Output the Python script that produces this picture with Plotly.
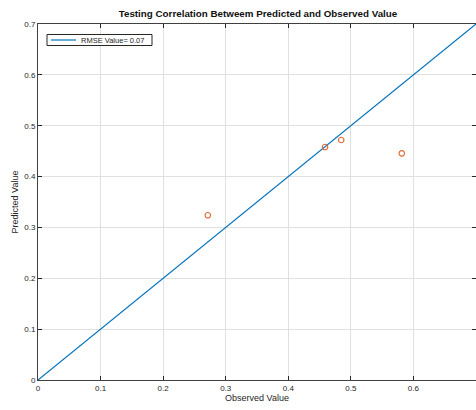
import plotly.graph_objects as go

observed = [0.2714, 0.4587, 0.4846, 0.5814]
predicted = [0.3238, 0.4580, 0.4719, 0.4457]
ref_line = [0.0, 0.7]
x_ticks = [0, 0.1, 0.2, 0.3, 0.4, 0.5, 0.6, 0.7]
y_ticks = [0, 0.1, 0.2, 0.3, 0.4, 0.5, 0.6, 0.7]
legend_label = "RMSE Value= 0.07"

font = "Liberation Sans, Arial, sans-serif"
W, H = 476, 410
L, R, T, B = 38, 0, 24, 30
pw, ph = W - L - R, H - T - B

def px_x(p):
    return (p - L) / pw

def px_y(p):
    return (H - B - p) / ph

fig = go.Figure()
fig.add_trace(go.Scatter(x=ref_line, y=ref_line, mode="lines",
                         line=dict(color="#0072BD", width=1.2),
                         name=legend_label, showlegend=False, cliponaxis=False))
fig.add_trace(go.Scatter(x=observed, y=predicted, mode="markers",
                         marker=dict(symbol="circle-open", color="#E0662E", size=5.5,
                                     line=dict(width=1.1)),
                         showlegend=False))

axis_common = dict(showline=True, linecolor="#404040", linewidth=1, mirror="ticks",
                   showgrid=True, gridcolor="#e0e0e0", gridwidth=1,
                   ticks="inside", ticklen=4, tickcolor="#262626",
                   tickfont=dict(size=8, color="#262626", family=font),
                   zeroline=False, automargin=False)

# manual MATLAB-style legend box
fig.add_shape(type="rect", xref="paper", yref="paper",
              x0=px_x(47), x1=px_x(152), y0=px_y(45.5), y1=px_y(34.5),
              line=dict(color="#262626", width=1), fillcolor="white", layer="above")
fig.add_shape(type="line", xref="paper", yref="paper",
              x0=px_x(51), x1=px_x(76), y0=px_y(40), y1=px_y(40),
              line=dict(color="#0072BD", width=1.2), layer="above")
fig.add_annotation(text=legend_label, xref="paper", yref="paper",
                   x=px_x(79), y=px_y(40), xanchor="left", yanchor="middle",
                   showarrow=False, font=dict(size=7.5, color="#262626", family=font))

fig.update_layout(
    width=W, height=H,
    margin=dict(l=L, r=R, t=T, b=B),
    paper_bgcolor="white", plot_bgcolor="white",
    title=dict(text="<b>Testing Correlation Betweem Predicted and Observed Value</b>",
               x=(258) / W, xanchor="center", y=1 - 14 / H, yanchor="middle",
               font=dict(size=9.8, color="#111", family=font)),
    xaxis=dict(range=[0, 0.7], tickvals=x_ticks, ticktext=[str(v) for v in x_ticks],
               title=dict(text="Observed Value", standoff=2,
                          font=dict(size=9, color="#262626", family=font)),
               **axis_common),
    yaxis=dict(range=[0, 0.7], tickvals=y_ticks, ticktext=[str(v) for v in y_ticks],
               title=dict(text="Predicted Value", standoff=4,
                          font=dict(size=9, color="#262626", family=font)),
               **axis_common),
    showlegend=False,
)

fig.write_html("out.html", config={"displayModeBar": False},
               post_script="document.body.style.margin='0';document.body.style.overflow='hidden';")
